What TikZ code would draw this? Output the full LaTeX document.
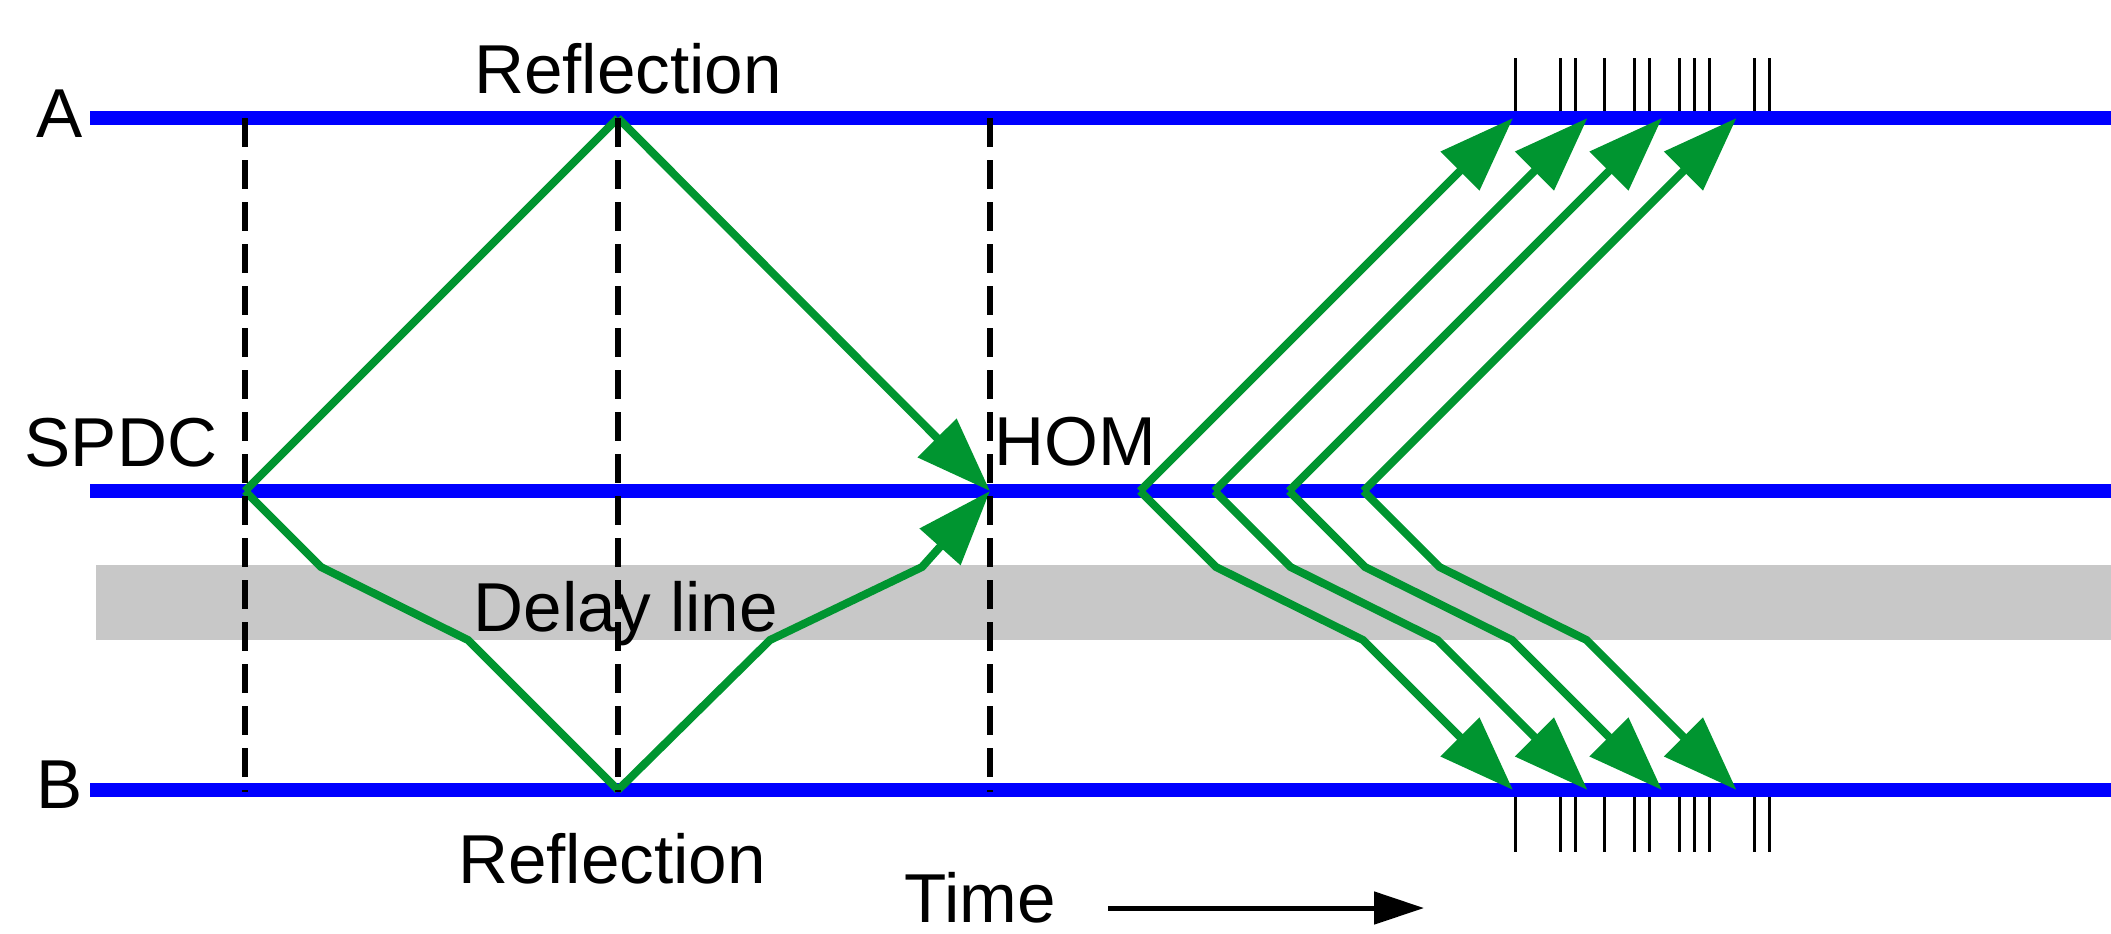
\documentclass[tikz,border=0pt]{standalone}
\usepackage{fontspec}
\setmainfont{Liberation Sans}
\usetikzlibrary{arrows.meta}
\definecolor{beamgreen}{RGB}{0,149,48}
\definecolor{railblue}{RGB}{0,0,255}
\definecolor{delaygray}{RGB}{200,200,200}

\begin{document}
\begin{tikzpicture}[x=0.1mm,y=-0.1mm,
  railline/.style={draw=railblue, line width=1.4mm},
  photon/.style={draw=beamgreen, line width=0.8mm, line join=miter},
  photonarrow/.style={photon, -{Triangle[length=7.5mm,width=5.3mm]}},
  epoch/.style={draw=black, line width=0.6mm, dash pattern=on 2.9mm off 1.3mm},
  detect/.style={draw=black, line width=0.3mm},
  lbl/.style={inner sep=0pt, anchor=base, font=\fontsize{19.7pt}{23pt}\selectfont}]

\useasboundingbox (0,0) rectangle (2111,933);

% delay line band
\fill[delaygray] (96,565) rectangle (2111,640);

% detection events on the outputs
\foreach \t in {1515,1560,1575,1604,1634,1649,1679,1694,1709,1754,1769}{
  \coordinate (dt\t) at (\t,58);
  \coordinate (da\t) at (\t,118);
  \coordinate (db\t) at (\t,790);
  \coordinate (dd\t) at (\t,852);
  \draw[detect] (dt\t) -- (da\t);
  \draw[detect] (db\t) -- (dd\t);
}

% the three channels
\coordinate (Al) at (90,118);  \coordinate (Ar) at (2111,118);
\coordinate (Sl) at (90,491);  \coordinate (Sr) at (2111,491);
\coordinate (Bl) at (90,790);  \coordinate (Br) at (2111,790);
\draw[railline] (Al) -- (Ar);
\draw[railline] (Sl) -- (Sr);
\draw[railline] (Bl) -- (Br);

% photon pair: source, reflections and interference point
\coordinate (src) at (245,491);
\coordinate (refA) at (618,118);
\coordinate (hom) at (990,491);
\coordinate (d1) at (321,567);
\coordinate (d2) at (468,640);
\coordinate (refB) at (618,790);
\coordinate (d3) at (770,640);
\coordinate (d4) at (922,567);

\draw[photon] (src) -- (refA);
\draw[photonarrow] (refA) -- (hom);
\draw[photon] (src) -- (d1) -- (d2) -- (refB);
\draw[photonarrow] (refB) -- (d3) -- (d4) -- (hom);

% outgoing pairs after the beam splitter
\foreach \i in {0,1,2,3}{
  \coordinate (v\i) at ({1140+74.5*\i},491);
  \coordinate (ta\i) at ({1513+74.5*\i},118);
  \coordinate (l1\i) at ({1216+74.5*\i},567);
  \coordinate (l2\i) at ({1363+74.5*\i},640);
  \coordinate (tb\i) at ({1513+74.5*\i},790);
  \draw[photonarrow] (v\i) -- (ta\i);
  \draw[photonarrow] (v\i) -- (l1\i) -- (l2\i) -- (tb\i);
}

% time markers
\foreach \x/\n in {245/a,618/b,990/c}{
  \coordinate (mt\n) at (\x,118);
  \coordinate (mb\n) at (\x,792);
  \draw[epoch] (mt\n) -- (mb\n);
}

% labels
\node[lbl] (labA) at (60,137) {A};
\node[lbl] (labB) at (60,808) {B};
\node[lbl] (labS) at (121,466) {SPDC};
\node[lbl] (labRA) at (628,93) {Reflection};
\node[lbl] (labRB) at (612,883) {Reflection};
\node[lbl] (labH) at (1075,465) {HOM};
\node[lbl] (labD) at (626,631) {Delay line};
\node[lbl] (labT) at (980,922) {Time};

% time axis
\coordinate (t0) at (1108,908);
\coordinate (t1) at (1424,908);
\draw[line width=0.5mm, -{Triangle[length=5mm,width=3.2mm]}] (t0) -- (t1);
\end{tikzpicture}
\end{document}
